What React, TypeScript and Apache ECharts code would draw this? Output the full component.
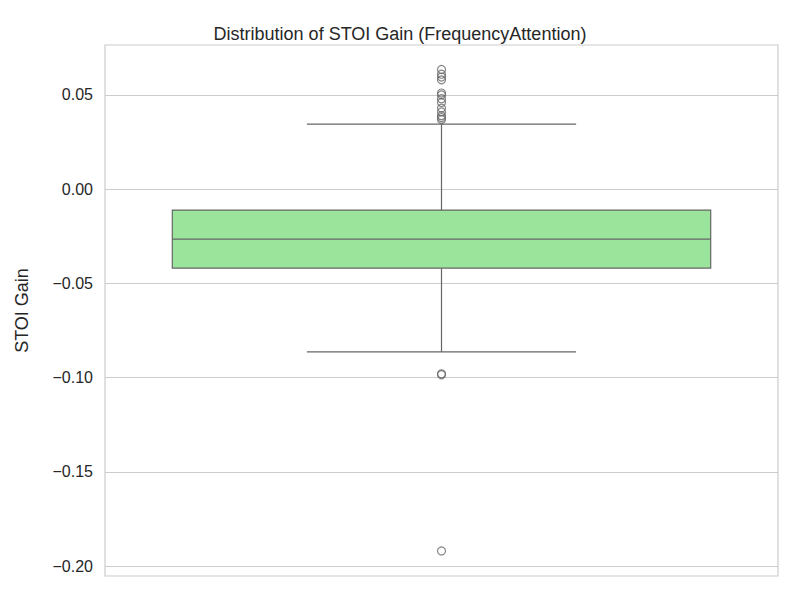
import React, { useEffect, useRef } from "react";
import * as echarts from "echarts";

const categories = ["FrequencyAttention"];
const boxStats = [[0, -0.0864, -0.0419, -0.0265, -0.0111, 0.0345]];
const outliers = [0.0635, 0.061, 0.0595, 0.058, 0.051, 0.05, 0.048, 0.046, 0.043, 0.041, 0.039, 0.038, 0.037, -0.098, -0.0985, -0.192];
const yTicks = [-0.2, -0.15, -0.1, -0.05, 0, 0.05];

export default function App() {
  const ref = useRef<HTMLDivElement>(null);
  useEffect(() => {
    document.body.style.margin = "0";
    const chart = echarts.init(ref.current!, null, { renderer: "svg" });
    const stroke = "#666666";
    const font = "Liberation Sans";
    chart.setOption({
      animation: false,
      textStyle: { fontFamily: font },
      title: { text: "Distribution of STOI Gain (FrequencyAttention)", left: "center", top: 20, textStyle: { fontSize: 18, fontWeight: "normal", color: "#262626", fontFamily: font } },
      grid: { left: 105, right: 22, top: 45, bottom: 24, show: true, borderColor: "#cccccc", borderWidth: 1.2 },
      xAxis: { type: "category", data: categories, axisLine: { show: false }, axisTick: { show: false }, axisLabel: { show: false }, splitLine: { show: false } },
      yAxis: {
        type: "value", min: -0.2053, max: 0.0765, name: "STOI Gain", nameLocation: "middle", nameGap: 74,
        nameTextStyle: { fontSize: 18, color: "#262626", fontFamily: font },
        axisLine: { show: false }, axisTick: { show: false }, splitLine: { show: false },
        axisLabel: { customValues: yTicks, fontSize: 16, color: "#262626", margin: 12, fontFamily: font, formatter: (v: number) => (v < 0 ? "\u2212" : "") + Math.abs(v).toFixed(2) },
      },
      series: [
        {
          type: "custom", data: boxStats, z: 3,
          renderItem: (params: any, api: any) => {
            const x = api.value(0);
            const bw = api.size([1, 0])[0];
            const c = (v: number) => api.coord([x, v]);
            const lo = c(api.value(1)), q1 = c(api.value(2)), md = c(api.value(3)), q3 = c(api.value(4)), hi = c(api.value(5));
            const cx = lo[0], bh = bw * 0.4, ch = bw * 0.2;
            const ls = { stroke, lineWidth: 1.2 };
            return {
              type: "group", children: [
                { type: "line", shape: { x1: cx, y1: q3[1], x2: cx, y2: hi[1] }, style: ls },
                { type: "line", shape: { x1: cx, y1: q1[1], x2: cx, y2: lo[1] }, style: ls },
                { type: "line", shape: { x1: cx - ch, y1: hi[1], x2: cx + ch, y2: hi[1] }, style: ls },
                { type: "line", shape: { x1: cx - ch, y1: lo[1], x2: cx + ch, y2: lo[1] }, style: ls },
                { type: "rect", shape: { x: cx - bh, y: q3[1], width: 2 * bh, height: q1[1] - q3[1] }, style: { fill: "#9be49b", stroke, lineWidth: 1.2 } },
                { type: "line", shape: { x1: cx - bh, y1: md[1], x2: cx + bh, y2: md[1] }, style: ls },
              ],
            };
          },
        },
        {
          type: "scatter", data: outliers.map((v) => [0, v]), symbol: "circle", symbolSize: 8, z: 4,
          itemStyle: { color: "rgba(0,0,0,0)", borderColor: stroke, borderWidth: 1.2 },
          markLine: { silent: true, symbol: "none", label: { show: false }, z: 1, lineStyle: { color: "#cccccc", type: "solid", width: 1.2 }, data: yTicks.map((v) => ({ yAxis: v })) },
        },
      ],
    });
    return () => chart.dispose();
  }, []);
  return <div ref={ref} style={{ width: 800, height: 600 }} />;
}
